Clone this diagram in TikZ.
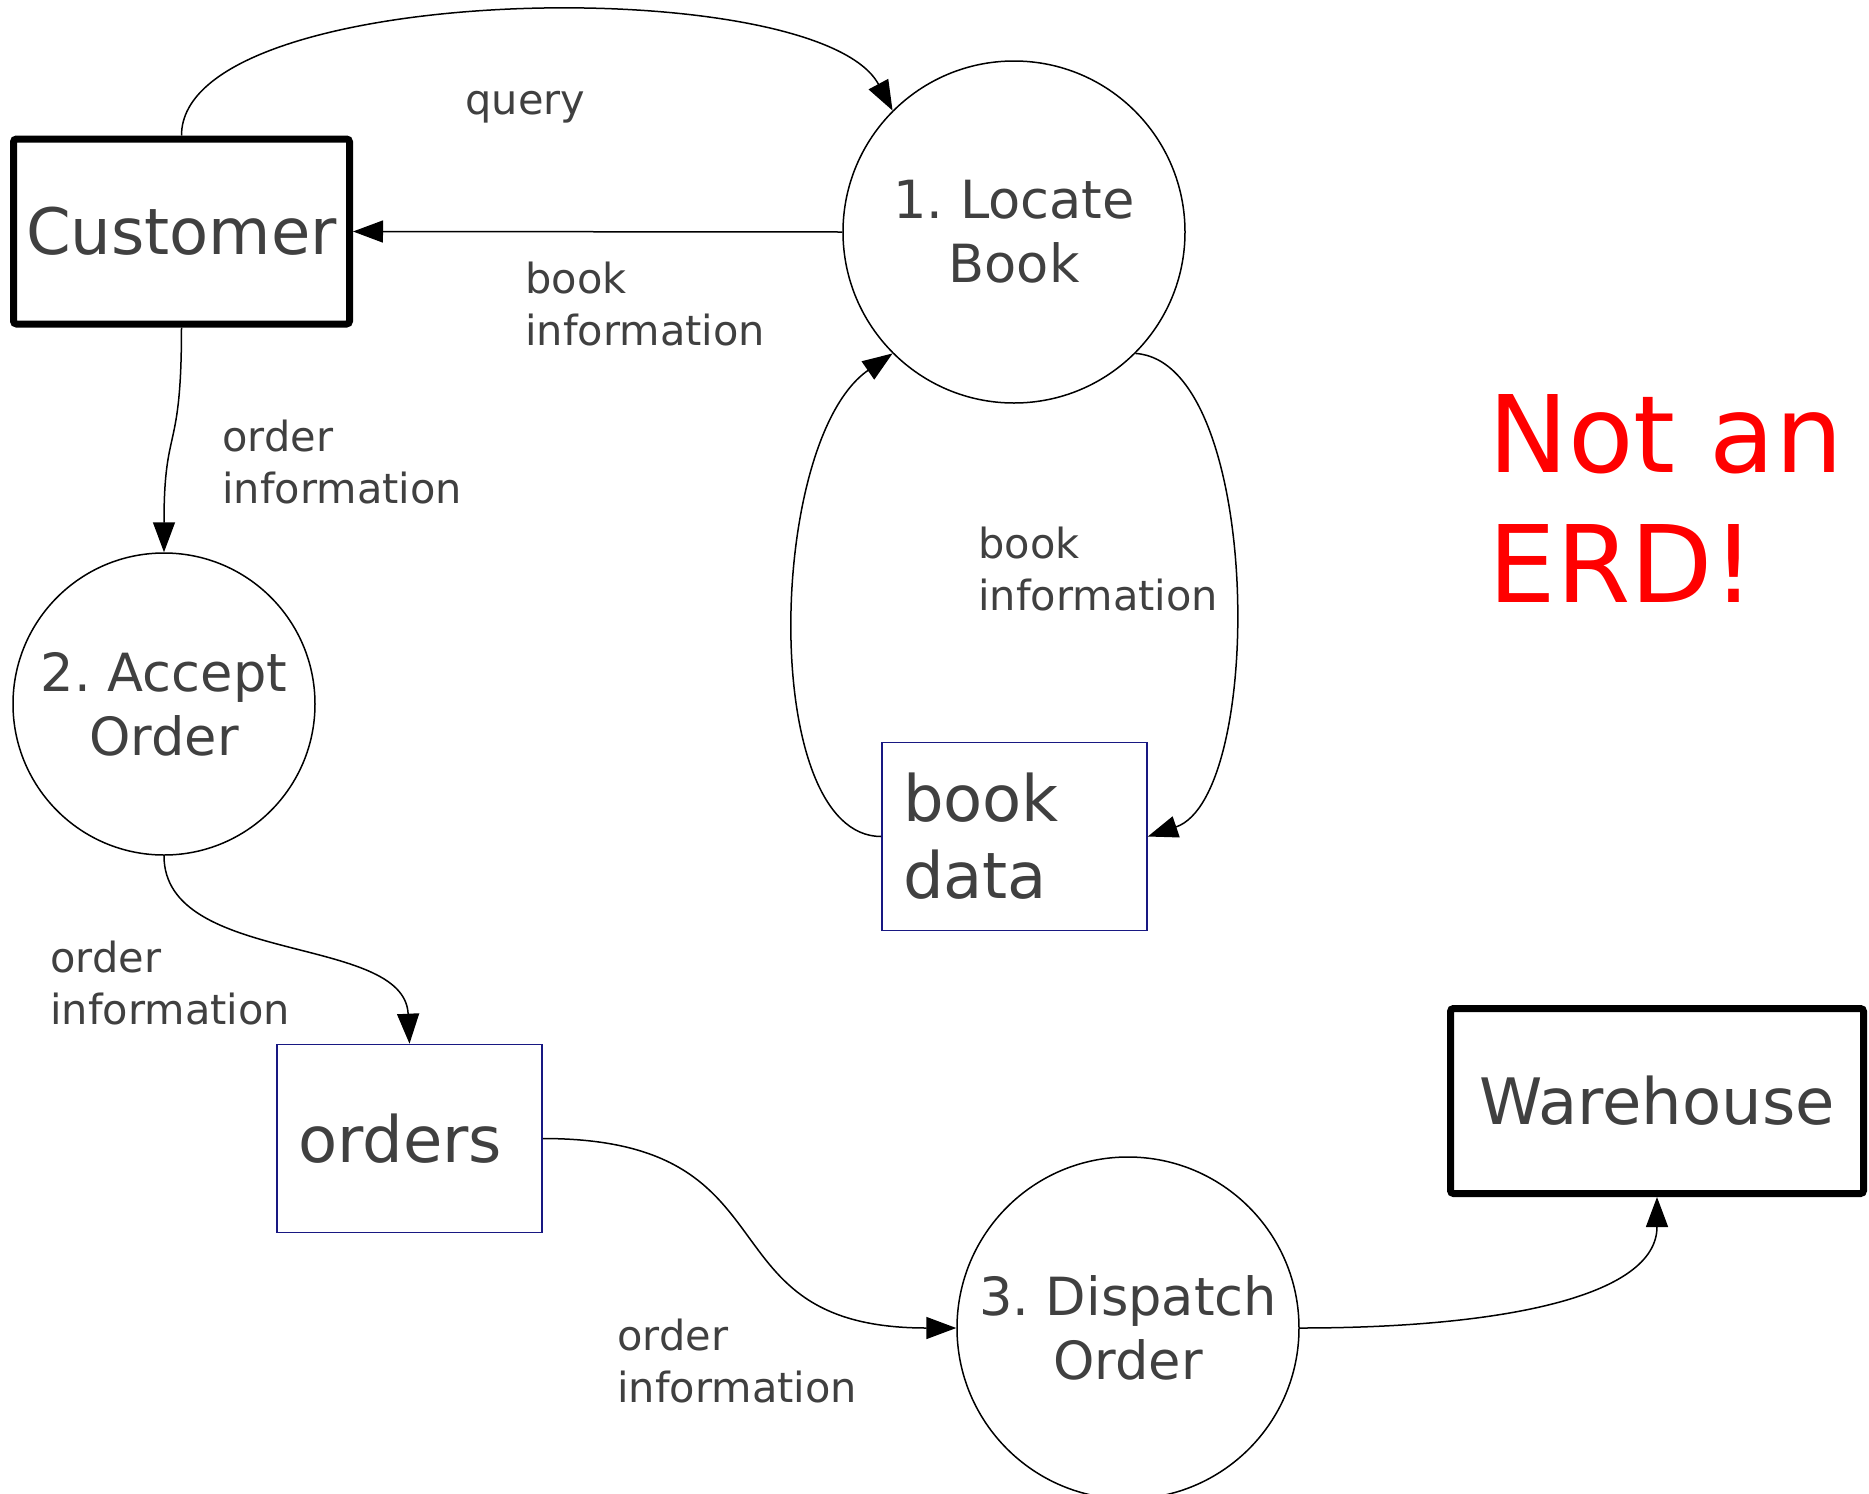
\documentclass[tikz,border=0pt]{standalone}
\usepackage{fontspec}
\setmainfont{DejaVu Sans}
\frenchspacing
\usetikzlibrary{arrows.meta}
\definecolor{inkgray}{RGB}{64,64,64}
\definecolor{storeblue}{RGB}{24,24,130}

\begin{document}
\begin{tikzpicture}[x=0.5pt, y=-0.5pt,
  flow/.style={-{Triangle[length=15pt,width=11pt]}, line width=0.75pt},
  process/.style={circle, draw, line width=0.75pt, inner sep=0pt, align=center, text=inkgray,
    font=\fontsize{26.3pt}{32pt}\selectfont},
  entity/.style={rectangle, draw, line width=3.5pt, rounded corners=1.5pt, text=inkgray,
    font=\fontsize{32pt}{38.5pt}\selectfont, minimum height=92.5pt},
  store/.style={rectangle, draw=storeblue, line width=0.8pt, text=inkgray, align=left,
    font=\fontsize{32pt}{38.5pt}\selectfont, inner xsep=10.5pt, text width=111.5pt,
    minimum height=94pt},
  flowlabel/.style={anchor=base west, inner sep=0pt, align=left, text=inkgray,
    font=\fontsize{20.75pt}{26pt}\selectfont}]

  \path[use as bounding box, fill=white] (0,0) rectangle (1869,1494);

  %% external entities
  \node[entity, minimum width=168pt] (customer) at (181.5,231.5) {Customer};
  \node[entity, minimum width=206.5pt] (warehouse) at (1657,1101) {Warehouse};

  %% processes
  \node[process, minimum size=171pt] (locate) at (1014,232) {1. Locate\\Book};
  \node[process, minimum size=151pt] (accept) at (164,704) {2. Accept\\Order};
  \node[process, minimum size=171pt] (dispatch) at (1128,1328) {3. Dispatch\\Order};

  %% data stores
  \node[store] (bookdata) at (1014.5,836.5) {book\\data};
  \node[store] (orders) at (409.5,1138.5) {orders};

  %% flows
  \draw[flow] (customer.north) .. controls +(0,-155) and +(-75,-140) .. (locate.135); %% query
  \draw[flow] (locate.west) -- (customer.east);
  \draw[flow] (customer.south) .. controls +(0,130) and +(0,-130) .. (accept.north);
  \draw[flow] (accept.south) .. controls +(0,110) and +(-5,-110) .. (orders.north);
  \draw[flow] (orders.east) .. controls +(260,0) and +(-260,0) .. (dispatch.west);
  \draw[flow] (dispatch.east) .. controls +(200,0) and +(0,100) .. (warehouse.south);
  \draw[flow] (locate.-45) .. controls +(127,8) and +(118,-40) .. (bookdata.east);
  \draw[flow] (bookdata.west) .. controls +(-122,0) and +(-126,87) .. (locate.-135);

  %% flow labels (placed at the baseline of their last line)
  \node[flowlabel] (lquery) at (465,114) {query};
  \node[flowlabel] (lbookinfo) at (525,345) {book\\information};
  \node[flowlabel] (lorderinfo) at (222,503) {order\\information};
  \node[flowlabel] (lbookback) at (978,610) {book\\information};
  \node[flowlabel] (lorderstore) at (50,1024) {order\\information};
  \node[flowlabel] (lorderout) at (617,1402) {order\\information};

  \node[anchor=base west, inner sep=0pt, align=left, text=red,
    font=\fontsize{53.5pt}{65pt}\selectfont] (erd) at (1488,602) {Not an\\ERD!};
\end{tikzpicture}
\end{document}
